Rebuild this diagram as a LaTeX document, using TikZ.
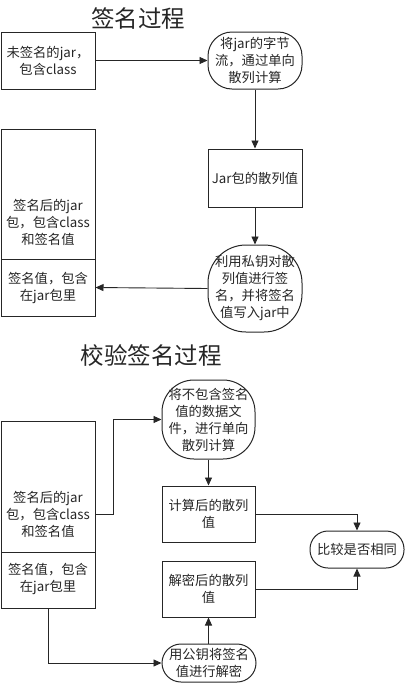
\documentclass[tikz,border=0pt]{standalone}
\usepackage{fontspec}
\setmainfont{Noto Sans CJK SC}
\usetikzlibrary{arrows.meta}
\begin{document}
\begin{tikzpicture}[x=1pt,y=-1pt,
  box/.style={draw=black!85, line width=1pt, inner sep=0pt, align=center,
    font=\fontsize{13.3}{17}\selectfont, text=black!85},
  txt/.style={inner sep=0pt, align=center, font=\fontsize{13.3}{17}\selectfont, text=black!85},
  title/.style={inner sep=0pt, font=\fontsize{23.5}{26}\selectfont, text=black!85},
  arr/.style={draw=black!85, line width=0.9pt, -{Triangle[length=8pt,width=7pt]}}]
\useasboundingbox (0,0) rectangle (405,683);
% ---- signing ----
\node[title] (t1) at (138,18) {签名过程};
\node[box, minimum width=94pt, minimum height=57pt] (b1) at (48,60.5) {未签名的jar，\\包含class};
\node[box, rounded corners=24pt, minimum width=94pt, minimum height=57pt] (n2) at (255,60.5) {将jar的字节\\流，通过单向\\散列计算};
\node[box, minimum width=94pt, minimum height=58pt] (b3) at (255,178) {Jar包的散列值};
\node[box, rounded corners=38pt, minimum width=94pt, minimum height=87pt] (n4) at (255,288.5) {利用私钥对散\\列值进行签\\名，并将签名\\值写入jar中};
\node[box, minimum width=94pt, minimum height=130pt] (L1u) at (48,194) {};
\node[box, minimum width=94pt, minimum height=57pt] (L1l) at (48,287.5) {};
\node[txt] (L1ut) at (48,222) {签名后的jar\\包，包含class\\和签名值};
\node[txt] (L1lt) at (48,288) {签名值，包含\\在jar包里};
\draw[arr] (b1.east) -- (n2.west);
\draw[arr] (n2.south) -- (b3.north);
\draw[arr] (b3.south) -- (n4.north);
\draw[arr] (n4.west) -- (L1l.east);
% ---- verification ----
\node[title] (t2) at (151,355) {校验签名过程};
\node[box, rounded corners=32pt, minimum width=93pt, minimum height=79pt] (A) at (208.5,419.5) {将不包含签名\\值的数据文\\件，进行单向\\散列计算};
\node[box, minimum width=93pt, minimum height=56pt] (B) at (208.5,514) {计算后的散列\\值};
\node[box, minimum width=93pt, minimum height=56pt] (C) at (208.5,589) {解密后的散列\\值};
\node[box, rounded corners=18pt, minimum width=94pt, minimum height=37pt] (D) at (357,549.5) {比较是否相同};
\node[box, rounded corners=19pt, minimum width=94pt, minimum height=38pt] (E) at (209,663) {用公钥将签名\\值进行解密};
\node[box, minimum width=94pt, minimum height=131pt] (L2u) at (48,486.5) {};
\node[box, minimum width=94pt, minimum height=56pt] (L2l) at (48,580) {};
\node[txt] (L2ut) at (48,514) {签名后的jar\\包，包含class\\和签名值};
\node[txt] (L2lt) at (48,579) {签名值，包含\\在jar包里};
\draw[arr] (L2u.east |- L2ut) -- ++(18,0) |- (A.west);
\draw[arr] (A.south) -- (B.north);
\draw[arr] (B.east) -| (D.north);
\draw[arr] (C.east) -| (D.south);
\draw[arr] (E.north -| C.south) -- (C.south);
\draw[arr] (L2l.south) |- (E.west);
\end{tikzpicture}
\end{document}
